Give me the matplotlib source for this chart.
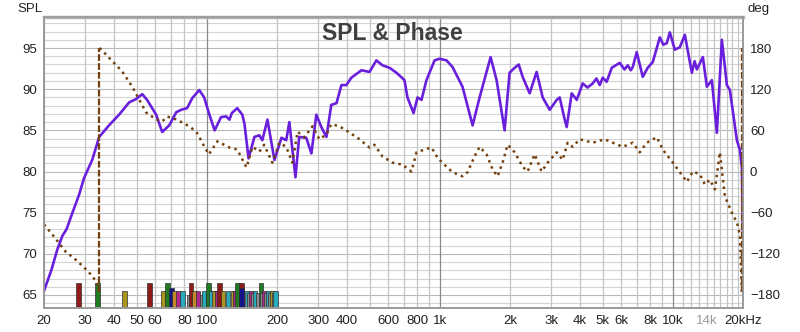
import numpy as np
import matplotlib
matplotlib.use('Agg')
from matplotlib import pyplot as plt

plt.rcParams['font.family'] = ['Liberation Sans', 'DejaVu Sans']

# SPL measurement (Hz, dB)
spl_freq = [20, 21.5, 22.8, 24, 25, 26.5, 28.3, 29.7, 32.2, 34.5, 38, 42, 46.4, 49.7,
            52.8, 55.4, 60.6, 64.3, 68.9, 73.9, 77.6, 82.3, 86.5, 92.7, 97.4, 102,
            108, 115, 121, 125, 128, 135, 142, 145, 151, 160, 168, 173, 182, 195,
            209, 219, 226, 240, 249, 267, 281, 295, 310, 326, 342, 360, 378, 397,
            417, 461, 499, 534, 567, 608, 651, 705, 726, 771, 802, 834, 876, 949,
            997, 1068, 1133, 1251, 1382, 1481, 1651, 1752, 1896, 1992, 2094, 2180, 2266,
            2429, 2602, 2762, 2960, 3172, 3268, 3434, 3502, 3680, 3868, 4102, 4300, 4530,
            4700, 4854, 5000, 5200, 5466, 5916, 6200, 6404, 6600, 6730, 6998, 7426, 7800,
            8202, 8790, 9100, 9420, 9704, 10196, 10714, 11258, 12064, 12400, 12676,
            13450, 13994, 14704, 15450, 16230, 17054, 17568, 18828, 19396, 19784, 20000]
spl_db = [65.5, 68.0, 70.5, 72.2, 73.0, 75.0, 77.2, 79.2, 81.4, 84.2, 85.6, 86.9, 88.4, 88.8,
          89.4, 88.7, 86.9, 84.8, 85.6, 87.2, 87.5, 87.7, 88.9, 89.9, 89.0, 87.1,
          85.0, 86.6, 86.7, 86.3, 87.1, 87.7, 86.9, 85.8, 81.6, 84.2, 84.4, 83.8, 86.3, 81.4,
          84.1, 83.8, 86.0, 79.3, 84.2, 84.1, 82.2, 86.9, 85.4, 84.2, 88.1, 88.3, 90.5, 90.5,
          91.4, 92.3, 92.1, 93.5, 92.9, 92.6, 92.0, 91.1, 89.0, 87.1, 89.0, 88.7, 91.1, 93.5,
          93.7, 93.5, 92.7, 90.3, 85.6, 89.0, 93.9, 91.1, 85.0, 92.0, 92.6, 93.0, 91.5,
          89.5, 92.1, 89.0, 87.5, 88.7, 89.0, 86.3, 85.4, 89.5, 88.7, 90.7, 90.2, 90.7,
          91.3, 90.5, 91.4, 90.9, 92.6, 93.2, 92.4, 92.9, 92.3, 92.7, 94.5, 91.5, 92.6,
          93.3, 96.3, 95.4, 95.6, 96.9, 94.8, 95.1, 96.6, 92.0, 93.4, 92.4,
          93.9, 90.3, 91.1, 84.7, 96.0, 90.5, 89.9, 83.8, 82.6, 80.5, 72.3]

# Phase (Hz, deg)
ph_freq = [20, 22.1, 24.9, 26.4, 28.3, 31.2, 33.5, 34.6, 34.6, 35.2, 38, 43.3, 47.8, 54.9,
           60.6, 64.3, 67.6, 73.9, 84, 90, 92.7, 95.5, 102, 111, 125, 135, 148, 157,
           168, 176, 191, 205, 219, 233, 245, 262, 284, 304, 326, 342, 370, 409, 452,
           499, 524, 567, 626, 691, 755, 794, 859, 921, 977, 1068, 1133, 1251, 1315,
           1409, 1481, 1587, 1684, 1769, 1859, 1953, 2094, 2266, 2380, 2552, 2734,
           2902, 3172, 3366, 3536, 3716, 3982, 4530, 5100, 5520, 6094, 6730, 7210,
           7728, 8532, 9054, 9996, 11482, 12184, 13062, 13722, 14414, 15148, 15912,
           16722, 17920, 18828, 19396, 19784, 19784, 20000]
ph_deg = [-77, -95, -118, -124, -133, -147, -160, -176, 180, 178, 166, 146, 124, 86,
          76, 73, 80, 76, 66, 58, 51, 42, 25, 44, 35, 32, 6, 36,
          29, 39, 13, 42, 36, 13, 58, 50, 66, 47, 54, 69, 66, 57, 47,
          35, 39, 22, 13, 10, 0, 28, 32, 35, 20, 7, -1, -7, -1,
          22, 36, 25, 3, -7, 13, 39, 28, 7, 0, 25, 0,
          13, 28, 17, 42, 36, 47, 42, 47, 42, 36, 42, 28,
          42, 50, 32, 13, -15, 0, -4, -19, -12, -26, 28,
          -36, -60, -74, -92, -176, 180, 180]

# room mode markers (Hz, top dB, colour key)
mode_freq = [28.2, 33.9, 44.3, 56.7, 65.1, 67.9, 70.6, 72.8, 75.6, 78.8, 83.8, 85.6,
             88.3, 91.7, 95.2, 97.2, 101.3, 104.6, 107.8, 110.9, 113.6, 117.4, 123.2,
             129.9, 133, 135.8, 140.6, 141.1, 149.6, 152.4, 155.0, 158.0, 161.0, 166.5,
             170.8, 173.3, 177, 180.6, 184.5, 188.1, 191.5, 195.2, 196.7]
mode_top = [66.5, 66.5, 65.5, 66.5, 65.5, 66.5, 65.9, 65.5, 65.5, 65.5, 65.0, 66.5,
            65.5, 65.5, 65.0, 65.5, 66.5, 65.5, 65.5, 65.5, 66.5, 65.5, 65.5,
            65.5, 65.5, 66.5, 66.5, 65.9, 65.5, 65.2, 65.5, 65.2, 65.5, 65.2,
            66.5, 65.2, 65.5, 65.2, 65.5, 65.2, 65.5, 65.2, 65.5]
mode_key = ['r', 'g', 'o', 'r', 'o', 'g', 'n', 'y', 'm', 'c', 'k', 'r',
            'y', 'm', 'k', 'c', 'g', 'c', 'o', 'm', 'r', 'o', 'c',
            'o', 'm', 'g', 'r', 'n', 'c', 'k', 'm', 'k', 'c', 'k',
            'g', 'k', 'm', 'k', 'c', 'k', 'o', 'k', 'c']
mode_colors = {'r': '#8e1a1a', 'g': '#1f7a22', 'o': '#a8961e', 'n': '#14148a',
               'y': '#c08a28', 'm': '#b0288e', 'c': '#28aabb', 'k': '#8c8c8c'}

x_ticks = [20, 30, 40, 50, 60, 80, 100, 200, 300, 400, 600, 800, 1000, 2000, 3000,
           4000, 5000, 6000, 8000, 10000, 14000, 20000]
x_labels = ['20', '30', '40', '50', '60', '80', '100', '200', '300', '400', '600', '800',
            '1k', '2k', '3k', '4k', '5k', '6k', '8k', '10k', '14k', '20kHz']
x_grid = [20, 30, 40, 50, 60, 70, 80, 90, 100, 200, 300, 400, 500, 600, 700, 800, 900,
          1000, 2000, 3000, 4000, 5000, 6000, 7000, 8000, 9000, 10000, 11000, 12000,
          13000, 14000, 15000, 16000, 17000, 18000, 19000, 20000]
spl_ticks = [65, 70, 75, 80, 85, 90, 95]
ph_ticks = [-180, -120, -60, 0, 60, 120, 180]

spl_lim = (63.42, 98.77)
ph_lim = ((spl_lim[0] - 80) * 12, (spl_lim[1] - 80) * 12)

fig = plt.figure(figsize=(8, 3.32), dpi=100)
ax = fig.add_axes([44 / 800, 1 - 308 / 332, 699 / 800, 291 / 332])
ax.set_xscale('log')
ax.set_xlim(20, 20000)
ax.set_ylim(*spl_lim)

# grid
for y in range(64, 99):
    ax.axhline(y, color='#b8b8b8' if y % 5 == 0 else '#d4d4d4', lw=0.8, zorder=0)
for f in x_grid:
    dark = f in (100, 1000, 10000)
    ax.axvline(f, color='#8a8a8a' if dark else '#c4c4c4', lw=0.9, zorder=0)

# mode bars
k = 1.0235
for f, top, key in zip(mode_freq, mode_top, mode_key):
    ax.bar(f / k, top - spl_lim[0], width=f * k - f / k, bottom=spl_lim[0], align='edge',
           color=mode_colors[key], edgecolor='#303030', linewidth=0.5, zorder=2)

ax.plot(spl_freq, spl_db, color='#6a1fdc', lw=1.9, zorder=4, solid_joinstyle='round')

ax.set_xticks(x_ticks)
ax.set_xticklabels(x_labels)
ax.xaxis.set_minor_locator(matplotlib.ticker.NullLocator())
ax.set_yticks(spl_ticks)
ax.tick_params(length=0, labelsize=9.5, colors='#202020')
ax.tick_params(axis='x', pad=5)
ax.tick_params(axis='y', pad=5)
ax.get_xticklabels()[x_labels.index('14k')].set_color('#9a9a9a')

ax2 = ax.twinx()
ax2.set_ylim(*ph_lim)
ax2.set_yticks(ph_ticks)
ax2.tick_params(length=0, labelsize=9.5, colors='#202020', pad=5)

ph_f = np.array(ph_freq)
ph_d = np.array(ph_deg)
jumps = np.where(np.abs(np.diff(ph_d)) > 180)[0]
start = 0
brown = '#74400f'
for j in jumps:
    ax2.plot(ph_f[start:j + 1], ph_d[start:j + 1], ls=':', color=brown, lw=1.8)
    ax2.plot(ph_f[j:j + 2], ph_d[j:j + 2], ls=(0, (3, 1)), color=brown, lw=1.6)
    start = j + 1
ax2.plot(ph_f[start:], ph_d[start:], ls=':', color=brown, lw=1.8)

for a in (ax, ax2):
    for s in a.spines.values():
        s.set_color('#9a9a9a')
        s.set_linewidth(1.2)
ax.spines['top'].set_linewidth(2.5)
ax.spines['top'].set_color('#b4b4b4')

fig.text(392 / 800, 1 - 34 / 332, 'SPL & Phase', fontsize=16.5, fontweight='bold',
         color='#404040', ha='center', va='center')
fig.text(17 / 800, 1 - 9 / 332, 'SPL', fontsize=9.5, ha='left', va='center', color='#202020')
fig.text(748 / 800, 1 - 9 / 332, 'deg', fontsize=9.5, ha='left', va='center', color='#202020')

fig.savefig('out.png', dpi=100, facecolor='white')
